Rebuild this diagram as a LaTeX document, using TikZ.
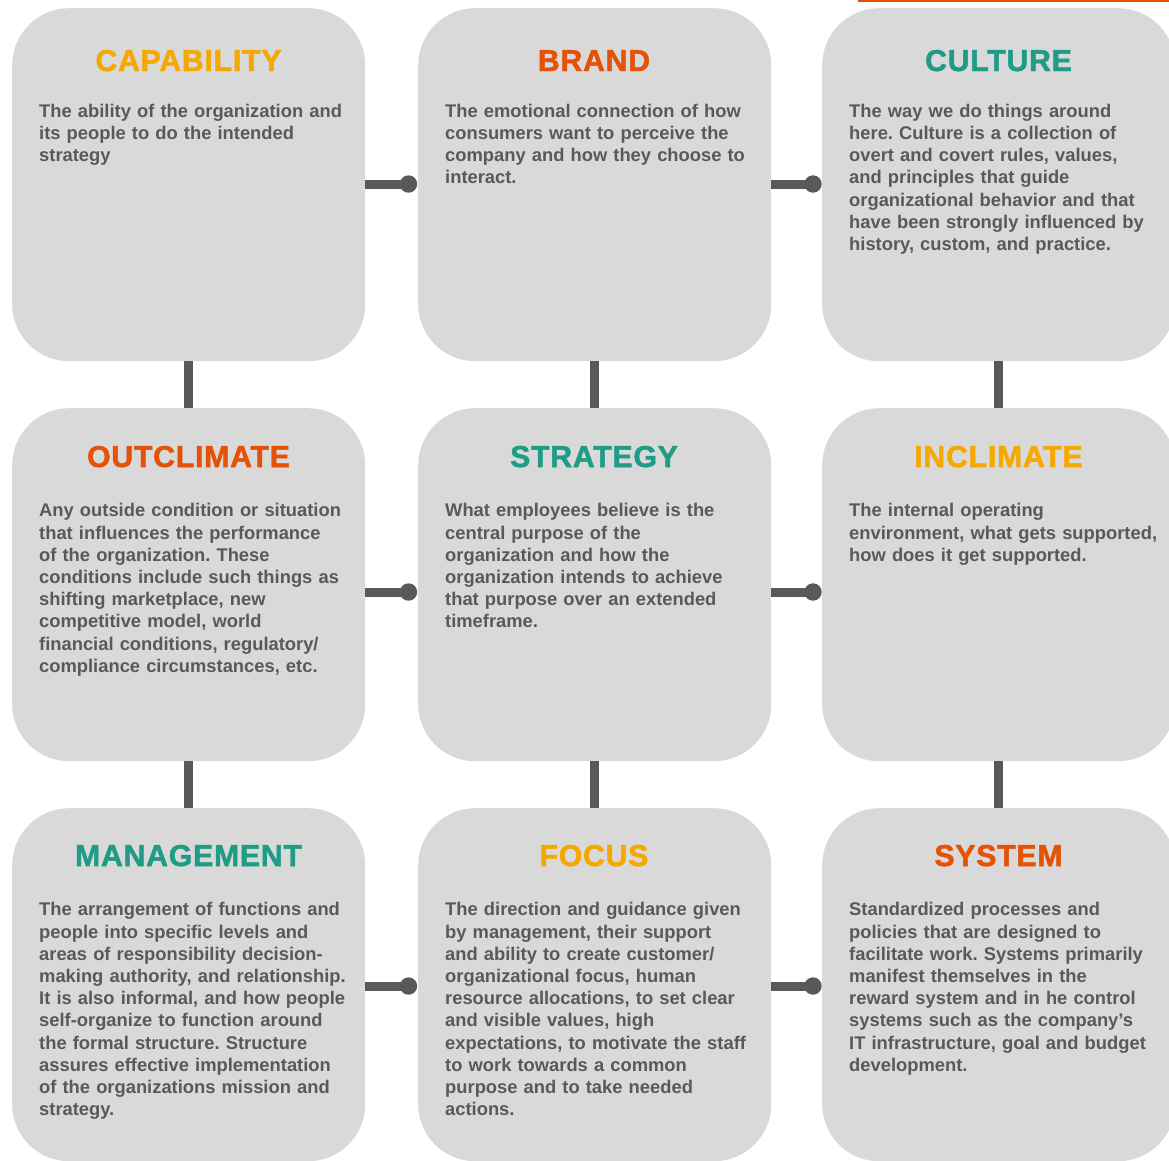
\documentclass[tikz,border=0pt]{standalone}
\usepackage{fontspec}
\setmainfont{Liberation Sans}
\newfontfamily\headfont{Liberation Sans Bold}[FakeBold=1.6, LetterSpace=2.6]
\usetikzlibrary{calc}
\definecolor{boxgray}{HTML}{D9D9D9}
\definecolor{txtgray}{HTML}{595959}
\definecolor{cyel}{HTML}{F5A800}
\definecolor{cora}{HTML}{E45206}
\definecolor{cteal}{HTML}{1F9C86}
\tikzset{
  card/.style={fill=boxgray, draw=none, rounded corners=57pt, minimum width=353pt,
    minimum height=353pt, inner sep=0pt, anchor=north west},
  heading/.style={anchor=base, inner sep=0pt, font=\fontsize{30.2}{34}\selectfont\headfont\bfseries},
  body/.style={anchor=north west, inner sep=0pt, text width=345pt, align=left, text=txtgray,
    font=\fontsize{18.35}{22.2}\selectfont\bfseries\frenchspacing},
  conn/.style={draw=txtgray, line width=9pt},
  dotend/.style={fill=txtgray},
}
\newcommand{\topstrut}{\rule{0pt}{15pt}}
\frenchspacing
\begin{document}
\begin{tikzpicture}[x=1pt, y={(0pt,-1pt)}]
\useasboundingbox (0,0) rectangle (1169,1160);
\clip (0,0) rectangle (1169,1160);

% cards
\node[card] (b11) at (12,8) {};
\node[card] (b12) at (418,8) {};
\node[card] (b13) at (822,8) {};
\node[card] (b21) at (12,408) {};
\node[card] (b22) at (418,408) {};
\node[card] (b23) at (822,408) {};
\node[card] (b31) at (12,808) {};
\node[card] (b32) at (418,808) {};
\node[card] (b33) at (822,808) {};

% top accent line
\fill[cora] (858,0) rectangle (1169,2);

% horizontal connectors
\coordinate (h11) at (408.5,184);
\coordinate (h12) at (813,184);
\coordinate (h21) at (408.5,592);
\coordinate (h22) at (813,592);
\coordinate (h31) at (408.5,986);
\coordinate (h32) at (813,986);
\draw[conn] (b11.east |- h11) -- (h11);
\draw[conn] (b12.east |- h12) -- (h12);
\draw[conn] (b21.east |- h21) -- (h21);
\draw[conn] (b22.east |- h22) -- (h22);
\draw[conn] (b31.east |- h31) -- (h31);
\draw[conn] (b32.east |- h32) -- (h32);
\foreach \c in {h11,h12,h21,h22,h31,h32} \fill[dotend] (\c) circle (8.7pt);

% vertical connectors
\draw[conn] (b11.south) -- (b21.north);
\draw[conn] (b21.south) -- (b31.north);
\draw[conn] (b12.south) -- (b22.north);
\draw[conn] (b22.south) -- (b32.north);
\draw[conn] (b13.south) -- (b23.north);
\draw[conn] (b23.south) -- (b33.north);

% headings
\node[heading, text=cyel]  (t11) at (188.5,71) {CAPABILITY};
\node[heading, text=cora]  (t12) at (594,71) {BRAND};
\node[heading, text=cteal] (t13) at (998.5,71) {CULTURE};
\node[heading, text=cora]  (t21) at (188.5,467) {OUTCLIMATE};
\node[heading, text=cteal] (t22) at (594,467) {STRATEGY};
\node[heading, text=cyel]  (t23) at (998.5,467) {INCLIMATE};
\node[heading, text=cteal] (t31) at (188.5,866) {MANAGEMENT};
\node[heading, text=cyel]  (t32) at (594,866) {FOCUS};
\node[heading, text=cora]  (t33) at (998.5,866) {SYSTEM};

% bodies
\node[body] (x11) at (39,102) {\topstrut The ability of the organization and\\
its people to do the intended\\
strategy};
\node[body] (x12) at (445,102) {\topstrut The emotional connection of how\\
consumers want to perceive the\\
company and how they choose to\\
interact.};
\node[body] (x13) at (849,102) {\topstrut The way we do things around\\
here. Culture is a collection of\\
overt and covert rules, values,\\
and principles that guide\\
organizational behavior and that\\
have been strongly influenced by\\
history, custom, and practice.};
\node[body] (x21) at (39,501.7) {\topstrut Any outside condition or situation\\
that influences the performance\\
of the organization. These\\
conditions include such things as\\
shifting marketplace, new\\
competitive model, world\\
financial conditions, regulatory/\\
compliance circumstances, etc.};
\node[body] (x22) at (445,501.7) {\topstrut What employees believe is the\\
central purpose of the\\
organization and how the\\
organization intends to achieve\\
that purpose over an extended\\
timeframe.};
\node[body] (x23) at (849,501.7) {\topstrut The internal operating\\
environment, what gets supported,\\
how does it get supported.};
\node[body] (x31) at (39,900.7) {\topstrut The arrangement of functions and\\
people into specific levels and\\
areas of responsibility decision-\\
making authority, and relationship.\\
It is also informal, and how people\\
self-organize to function around\\
the formal structure. Structure\\
assures effective implementation\\
of the organizations mission and\\
strategy.};
\node[body] (x32) at (445,900.7) {\topstrut The direction and guidance given\\
by management, their support\\
and ability to create customer/\\
organizational focus, human\\
resource allocations, to set clear\\
and visible values, high\\
expectations, to motivate the staff\\
to work towards a common\\
purpose and to take needed\\
actions.};
\node[body] (x33) at (849,900.7) {\topstrut Standardized processes and\\
policies that are designed to\\
facilitate work. Systems primarily\\
manifest themselves in the\\
reward system and in he control\\
systems such as the company’s\\
IT infrastructure, goal and budget\\
development.};
\end{tikzpicture}
\end{document}
